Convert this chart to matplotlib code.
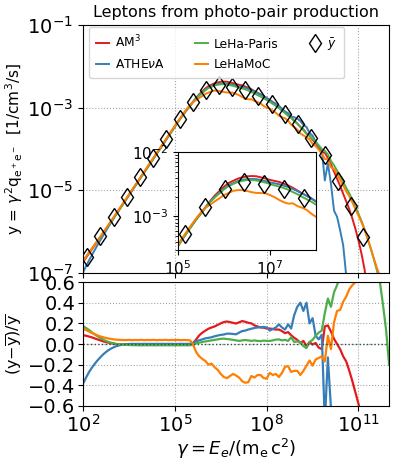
import numpy as np
import matplotlib
matplotlib.use('Agg')
import matplotlib.pyplot as plt
from matplotlib.ticker import FixedLocator, NullLocator, LogLocator, NullFormatter

# gamma grid (log10), 0.1 decade steps
log_gamma = np.linspace(2.0, 12.0, 101)

# log10 of the reference curve y-bar on that grid
log_ybar = [
    -6.775, -6.664, -6.554, -6.443, -6.332, -6.222, -6.111, -6.001, -5.890, -5.779,
    -5.669, -5.558, -5.448, -5.337, -5.226, -5.116, -5.005, -4.895, -4.784, -4.673,
    -4.563, -4.452, -4.342, -4.231, -4.120, -4.010, -3.899, -3.789, -3.678, -3.567,
    -3.457, -3.346, -3.240, -3.140, -3.040, -2.950, -2.860, -2.780, -2.710, -2.650,
    -2.590, -2.540, -2.510, -2.480, -2.465, -2.455, -2.455, -2.460, -2.475, -2.490,
    -2.510, -2.530, -2.550, -2.575, -2.600, -2.635, -2.670, -2.710, -2.745, -2.785,
    -2.830, -2.875, -2.925, -2.975, -3.030, -3.090, -3.150, -3.210, -3.275, -3.340,
    -3.400, -3.470, -3.540, -3.615, -3.690, -3.775, -3.860, -3.955, -4.055, -4.160,
    -4.290, -4.420, -4.570, -4.720, -4.870, -5.030, -5.190, -5.330, -5.490, -5.660,
    -5.840, -6.020, -6.220, -6.460, -6.700, -6.950, -7.200, -7.450, -7.720, -8.000,
    -8.300,
]

# relative deviations (y - ybar)/ybar of each code
res_am3 = [
    0.085, 0.080, 0.072, 0.063, 0.052, 0.042, 0.032, 0.022, 0.015, 0.008,
    0.003, -0.002, -0.004, -0.005, -0.005, -0.006, -0.005, -0.006, -0.005, -0.005,
    -0.006, -0.005, -0.005, -0.006, -0.005, -0.005, -0.006, -0.005, -0.005, -0.006,
    -0.005, -0.005, -0.006, -0.005, -0.004, -0.002, 0.010, 0.045, 0.085, 0.110,
    0.130, 0.148, 0.160, 0.170, 0.185, 0.200, 0.212, 0.218, 0.212, 0.205,
    0.198, 0.210, 0.222, 0.215, 0.205, 0.200, 0.180, 0.170, 0.160, 0.158,
    0.150, 0.150, 0.145, 0.140, 0.140, 0.125, 0.105, 0.115, 0.085, 0.060,
    0.040, 0.010, 0.030, -0.020, 0.020, -0.005, 0.010, -0.035, -0.050, 0.170,
    0.180, 0.120, 0.050, 0.000, -0.050, -0.120, -0.170, -0.260, -0.360, -0.470,
    -0.580, -0.700, -0.800, -0.930, -0.985, -0.997, -0.9995, -0.9999, -0.9999, -0.9999,
    -0.9999,
]
res_athena = [
    -0.384, -0.325, -0.270, -0.225, -0.185, -0.150, -0.118, -0.090, -0.066, -0.047,
    -0.032, -0.020, -0.012, -0.006, -0.002, 0.000, 0.001, 0.001, 0.001, 0.001,
    0.001, 0.001, 0.001, 0.001, 0.001, 0.001, 0.001, 0.001, 0.001, 0.001,
    0.001, 0.001, 0.001, 0.001, 0.001, 0.002, 0.012, 0.025, 0.036, 0.045,
    0.055, 0.060, 0.065, 0.075, 0.082, 0.088, 0.092, 0.100, 0.100, 0.097,
    0.094, 0.110, 0.125, 0.130, 0.140, 0.148, 0.155, 0.160, 0.163, 0.165,
    0.160, 0.130, 0.145, 0.160, 0.190, 0.160, 0.140, 0.190, 0.150, 0.280,
    0.360, 0.400, 0.320, 0.400, 0.200, 0.250, 0.080, 0.045, 0.090, -0.750,
    -0.130, -0.620, -0.880, -0.880, -0.920, -0.950, -0.987, -0.998, -0.9999, -0.9999,
    -0.9999, -0.9999, -0.9999, -0.9999, -0.9999, -0.9999, -0.9999, -0.9999, -0.9999, -0.9999,
    -0.9999,
]
res_leha_paris = [
    0.174, 0.155, 0.135, 0.110, 0.090, 0.070, 0.052, 0.036, 0.024, 0.014,
    0.007, 0.000, -0.004, -0.007, -0.009, -0.010, -0.011, -0.012, -0.012, -0.013,
    -0.012, -0.013, -0.012, -0.013, -0.013, -0.012, -0.013, -0.012, -0.013, -0.012,
    -0.013, -0.012, -0.013, -0.012, -0.013, -0.012, -0.005, 0.008, 0.013, 0.020,
    0.025, 0.030, 0.035, 0.040, 0.045, 0.050, 0.052, 0.048, 0.045, 0.040,
    0.035, 0.030, 0.035, 0.038, 0.035, 0.030, 0.035, 0.030, 0.028, 0.033,
    0.030, 0.030, 0.035, 0.042, 0.045, 0.035, 0.040, 0.030, 0.065, 0.020,
    0.025, 0.020, -0.020, -0.040, 0.020, 0.040, 0.080, 0.110, 0.130, 0.300,
    0.440, 0.360, 0.500, 0.570, 0.660, 0.720, 0.770, 0.800, 0.830, 0.850,
    0.870, 0.880, 0.880, 0.920, 0.950, 0.930, 0.850, 0.600, 0.380, 0.140,
    -0.200,
]
res_lehamoc = [
    0.148, 0.135, 0.120, 0.105, 0.093, 0.080, 0.070, 0.062, 0.055, 0.050,
    0.045, 0.042, 0.040, 0.039, 0.038, 0.040, 0.037, 0.039, 0.038, 0.040,
    0.037, 0.039, 0.038, 0.040, 0.037, 0.039, 0.038, 0.040, 0.037, 0.039,
    0.038, 0.040, 0.037, 0.039, 0.038, 0.035, -0.010, -0.080, -0.120, -0.145,
    -0.165, -0.200, -0.190, -0.225, -0.250, -0.290, -0.320, -0.330, -0.310, -0.290,
    -0.305, -0.325, -0.360, -0.375, -0.370, -0.310, -0.325, -0.300, -0.300, -0.330,
    -0.335, -0.280, -0.300, -0.290, -0.320, -0.280, -0.220, -0.215, -0.270, -0.260,
    -0.260, -0.300, -0.260, -0.210, -0.160, -0.210, -0.150, -0.135, -0.120, -0.170,
    0.080, -0.050, 0.210, 0.320, 0.330, 0.410, 0.460, 0.530, 0.570, 0.600,
    0.680, 0.750, 0.850, 0.950, 1.000, 1.030, 1.100, 1.360, 1.600, 1.850,
    2.200,
]

# y-bar markers
marker_log_gamma = [2.14, 2.56, 3.02, 3.43, 3.87, 4.29, 4.72, 5.16, 5.58, 6.02, 6.44,
                    6.87, 7.30, 7.73, 8.17, 8.59, 9.01, 9.46, 9.89, 10.33, 10.74, 11.16]
marker_log_y = [-6.62, -6.11, -5.64, -5.17, -4.67, -4.23, -3.77, -3.28, -2.86, -2.57, -2.46,
                -2.49, -2.57, -2.72, -2.91, -3.15, -3.40, -3.74, -4.15, -4.77, -5.37, -6.14]

codes = ['AM$^3$', r'ATHE$\nu$A', 'LeHa-Paris', 'LeHaMoC']
residuals = [res_am3, res_athena, res_leha_paris, res_lehamoc]
colors = ['#e41a1c', '#377eb8', '#4daf4a', '#ff7f00']

gamma = 10 ** log_gamma
ybar = 10 ** np.array(log_ybar)
mk_x = 10 ** np.array(marker_log_gamma)
mk_y = 10 ** np.array(marker_log_y)

fig = plt.figure(figsize=(3.96, 4.68), dpi=100)
ax = fig.add_axes([0.2096, 0.4167, 0.773, 0.530])
axr = fig.add_axes([0.2096, 0.1325, 0.773, 0.2649], sharex=ax)
axin = fig.add_axes([0.4495, 0.4658, 0.3485, 0.209])

for name, res, c in zip(codes, residuals, colors):
    y = ybar * (1 + np.array(res))
    ax.plot(gamma, y, color=c, lw=1.4, label=name)
    axin.plot(gamma, y, color=c, lw=1.4)
    axr.plot(gamma, res, color=c, lw=1.6)
mk_style = dict(ls='none', marker='d', ms=9.5, mfc='none', mec='k', mew=1.0)
ax.plot(mk_x, mk_y, label=r'$\bar{y}$', **mk_style)
axin.plot(mk_x, mk_y, **mk_style)

ax.set_xscale('log')
ax.set_yscale('log')
ax.set_xlim(1e2, 1e12)
ax.set_ylim(1e-7, 1e-1)
ax.yaxis.set_major_locator(FixedLocator([1e-7, 1e-5, 1e-3, 1e-1]))
ax.yaxis.set_minor_locator(NullLocator())
ax.xaxis.set_major_locator(FixedLocator([1e2, 1e5, 1e8, 1e11]))
ax.xaxis.set_minor_locator(NullLocator())
ax.tick_params(labelsize=14, labelbottom=False)
ax.grid(True, ls=':', color='gray', lw=0.8, alpha=0.7)
ax.set_title('Leptons from photo-pair production', fontsize=11.5)
ax.set_ylabel(r'y = $\gamma^2\mathrm{q_{e^+e^-}}$  [1/cm$^3$/s]', fontsize=11)
ax.yaxis.set_label_coords(-0.19, 0.5)
ax.legend(loc='upper left', ncol=3, fontsize=8.8, handlelength=1.0, handletextpad=0.5,
          columnspacing=2.5, labelspacing=0.6, borderpad=0.6, borderaxespad=0,
          bbox_to_anchor=(0.02, 0.993))

axr.axhline(0, color='darkslategray', ls=':', lw=1)
axr.set_ylim(-0.6, 0.6)
axr.set_yticks([-0.6, -0.4, -0.2, 0.0, 0.2, 0.4, 0.6])
axr.tick_params(labelsize=14, pad=2)
axr.grid(True, ls=':', color='gray', lw=0.8, alpha=0.7)
axr.set_xlabel(r'$\gamma = E_e/(\mathrm{m_e\,c^2})$', fontsize=13, labelpad=1)
axr.set_ylabel(r'(y$-\overline{\mathrm{y}}$)/$\overline{\mathrm{y}}$', fontsize=11.5)
axr.yaxis.set_label_coords(-0.19, 0.5)

axin.set_xscale('log')
axin.set_yscale('log')
axin.set_xlim(1e5, 1e8)
axin.set_ylim(3e-4, 1e-2)
axin.xaxis.set_major_locator(FixedLocator([1e5, 1e7]))
axin.xaxis.set_minor_locator(NullLocator())
axin.yaxis.set_major_locator(FixedLocator([1e-3, 1e-2]))
axin.yaxis.set_minor_locator(LogLocator(base=10, subs=np.arange(2, 10)))
axin.yaxis.set_minor_formatter(NullFormatter())
axin.tick_params(labelsize=11)

fig.savefig('out.png', dpi=100)
